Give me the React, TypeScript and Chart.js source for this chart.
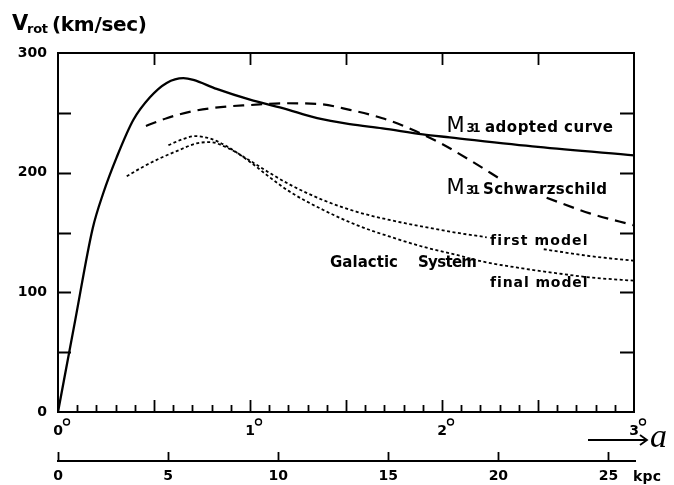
import React, { useEffect, useRef } from 'react';
import { Chart, registerables } from 'chart.js';
Chart.register(...registerables);

// ---- data (x in degrees of arc, y in km/sec) ----
const KPC_PER_DEG = 8.72;

const adoptedDeg = [0, 0.09, 0.18, 0.236, 0.306, 0.392, 0.479, 0.566, 0.653, 0.705, 0.826, 1.0, 1.17, 1.35, 1.52, 1.69, 1.9, 2.04, 2.5, 3.0];
const adoptedV = [0, 77, 153, 183, 213, 244, 263, 275, 279, 277.5, 270, 261, 254, 245.5, 240.5, 237, 232, 229.5, 221.5, 214.5];

const schwDeg = [0.458, 0.566, 0.705, 0.861, 1.0, 1.17, 1.35, 1.52, 1.69, 1.83, 1.9, 2.0, 2.16, 2.3, 2.42, 2.545, 2.77, 3.0];
const schwV = [239, 245.5, 251.5, 255, 256.5, 258, 257.5, 252.5, 245.5, 237, 232, 224, 209, 195, null, 179, 166, 156];

const firstDeg = [0.358, 0.444, 0.531, 0.618, 0.722, 0.792, 0.879, 1.0, 1.1, 1.208, 1.382, 1.556, 1.729, 1.903, 2.077, 2.233, 2.38, 2.53, 2.77, 3.0];
const firstV = [197, 205, 212, 218, 224.5, 225.5, 221, 210, 200, 190, 177, 167.3, 160.4, 154.8, 149.8, 146, null, 136, 130.3, 126.4];

const finalDeg = [0.575, 0.65, 0.714, 0.792, 0.879, 1.0, 1.1, 1.208, 1.382, 1.556, 1.729, 1.903, 2.077, 2.215, 2.42, 2.6, 2.77, 3.0];
const finalV = [223, 228, 230.5, 228.5, 222, 209, 196.5, 184, 168.8, 156.2, 146.5, 138, 131.2, 125.6, 120, 115.9, 112.5, 109.7];

const yTickValues = [0, 50, 100, 150, 200, 250, 300];
const degTickLabels = ['0', '1', '2', '3'];
const kpcTickValues = [0, 5, 10, 15, 20, 25];

const toPts = (xs: number[], ys: (number | null)[]) => xs.map((x, i) => ({ x, y: ys[i] }));

const FAM = '"DejaVu Sans", sans-serif';

function fitText(ctx: CanvasRenderingContext2D, text: string, left: number, baseline: number, width: number, font: string) {
  ctx.font = font;
  (ctx as any).letterSpacing = '0px';
  const w = ctx.measureText(text).width;
  const n = text.length - 1;
  const sp = n > 0 ? (width - w) / n : 0;
  (ctx as any).letterSpacing = sp + 'px';
  ctx.textAlign = 'left';
  ctx.textBaseline = 'alphabetic';
  ctx.fillText(text, left, baseline);
  (ctx as any).letterSpacing = '0px';
}

const decor = {
  id: 'decor',
  afterDraw(chart: any) {
    const { ctx, chartArea: a, scales } = chart;
    const x = scales.x, y = scales.y, x2 = scales.x2;
    ctx.save();
    ctx.strokeStyle = '#000';
    ctx.fillStyle = '#000';
    ctx.lineWidth = 2;
    ctx.beginPath();
    ctx.moveTo(a.left - 1, a.top);
    ctx.lineTo(a.right, a.top);
    ctx.lineTo(a.right, a.bottom + 1);
    ctx.stroke();

    ctx.lineWidth = 1.8;
    ctx.beginPath();
    y.ticks.forEach((t: any) => {
      if (t.value === 0 || t.value === 300) return;
      const py = Math.round(y.getPixelForValue(t.value)) + 0.5;
      ctx.moveTo(a.left, py); ctx.lineTo(a.left + 13, py);
      ctx.moveTo(a.right, py); ctx.lineTo(a.right - 14, py);
    });
    x.ticks.forEach((t: any) => {
      const v = Math.round(t.value * 10);
      if (v === 0 || v === 30) return;
      const px = Math.round(x.getPixelForValue(t.value)) + 0.5;
      const major = v % 5 === 0;
      ctx.moveTo(px, a.bottom); ctx.lineTo(px, a.bottom - (major ? 12 : 7));
      if (major) { ctx.moveTo(px, a.top); ctx.lineTo(px, a.top + 12); }
    });
    x2.ticks.forEach((t: any) => {
      const px = Math.round(x2.getPixelForValue(t.value)) + 0.5;
      ctx.moveTo(px, x2.top); ctx.lineTo(px, x2.top - 9);
    });
    ctx.moveTo(x2.right, x2.top); ctx.lineTo(x2.right + 2, x2.top);
    ctx.stroke();

    // degree signs
    ctx.lineWidth = 1.4;
    x.ticks.forEach((t: any) => {
      if (Math.abs(t.value - Math.round(t.value)) > 1e-6) return;
      const px = x.getPixelForValue(t.value);
      ctx.beginPath();
      ctx.arc(px + 8.5, a.bottom + 10, 3, 0, Math.PI * 2);
      ctx.stroke();
    });

    // y title
    fitText(ctx, 'V', 12, 30, 13, `bold 21px ${FAM}`);
    fitText(ctx, 'rot', 27, 33, 21, `bold 13px ${FAM}`);
    fitText(ctx, '(km/sec)', 52, 31, 95, `bold 20px ${FAM}`);

    // curve labels
    fitText(ctx, 'M', 446.5, 132, 18, `21px ${FAM}`);
    fitText(ctx, '31', 466.5, 132, 14, `bold 12px ${FAM}`);
    fitText(ctx, 'adopted curve', 485, 132, 128, `bold 15px ${FAM}`);

    fitText(ctx, 'M', 446.5, 194, 17, `21px ${FAM}`);
    fitText(ctx, '31', 466, 194, 14, `bold 12px ${FAM}`);
    fitText(ctx, 'Schwarzschild', 483, 193.5, 124, `bold 15px ${FAM}`);

    fitText(ctx, 'first model', 490, 245, 97, `bold 14px ${FAM}`);
    fitText(ctx, 'Galactic', 330, 267, 68, `bold 15px ${FAM}`);
    fitText(ctx, 'System', 418, 267, 59, `bold 15px ${FAM}`);
    fitText(ctx, 'final model', 490, 287, 97, `bold 14px ${FAM}`);

    // kpc unit
    fitText(ctx, 'kpc', 633, 481, 28, `bold 14px ${FAM}`);

    // arrow and "a"
    ctx.lineWidth = 1.8;
    ctx.beginPath();
    ctx.moveTo(588, 440); ctx.lineTo(647, 440);
    ctx.moveTo(640, 435); ctx.lineTo(647, 440); ctx.lineTo(640, 445);
    ctx.stroke();
    ctx.font = 'italic 34px "Liberation Serif", serif';
    ctx.textAlign = 'left';
    ctx.textBaseline = 'alphabetic';
    ctx.fillText('a', 650, 447);
    ctx.restore();
  },
};

export default function App() {
  const ref = useRef<HTMLCanvasElement | null>(null);
  useEffect(() => {
    if (!ref.current) return;
    const tickFont = { family: FAM, weight: 'bold' as const, size: 14 };
    const chart = new Chart(ref.current, {
      type: 'line',
      data: {
        datasets: [
          { label: 'M31 adopted curve', data: toPts(adoptedDeg, adoptedV), borderColor: '#000', borderWidth: 2.3, pointRadius: 0, cubicInterpolationMode: 'monotone', spanGaps: false },
          { label: 'M31 Schwarzschild', data: toPts(schwDeg, schwV), borderColor: '#000', borderWidth: 2.2, borderDash: [11, 7], pointRadius: 0, cubicInterpolationMode: 'monotone', spanGaps: false },
          { label: 'first model', data: toPts(firstDeg, firstV), borderColor: '#000', borderWidth: 1.8, borderDash: [3, 2.5], pointRadius: 0, cubicInterpolationMode: 'monotone', spanGaps: false },
          { label: 'final model', data: toPts(finalDeg, finalV), borderColor: '#000', borderWidth: 1.8, borderDash: [3, 2.5], pointRadius: 0, cubicInterpolationMode: 'monotone', spanGaps: false },
        ],
      } as any,
      options: {
        responsive: false,
        devicePixelRatio: 1,
        animation: false,
        layout: { padding: { top: 53, right: 40, left: 0, bottom: 0 } },
        plugins: { legend: { display: false }, tooltip: { enabled: false } },
        scales: {
          x: {
            type: 'linear', position: 'bottom', min: 0, max: 3, weight: 0,
            afterBuildTicks: (s: any) => { s.ticks = Array.from({ length: 31 }, (_, i) => ({ value: i / 10 })); },
            afterFit: (s: any) => { s.height = 49; },
            ticks: {
              autoSkip: false, maxRotation: 0, color: '#000', font: tickFont, padding: 11,
              callback: (v: any) => { const r = Math.round(v); return Math.abs(v - r) < 1e-6 ? degTickLabels[r] : ''; },
            },
            grid: { display: false, drawTicks: false },
            border: { display: true, color: '#000', width: 2 },
          },
          x2: {
            type: 'linear', position: 'bottom', min: 0, max: 3 * KPC_PER_DEG, weight: 1,
            afterBuildTicks: (s: any) => { s.ticks = kpcTickValues.map((value) => ({ value })); },
            afterFit: (s: any) => { s.height = 24; },
            ticks: { autoSkip: false, maxRotation: 0, color: '#000', font: tickFont, padding: 7, callback: (v: any) => String(v) },
            grid: { display: false, drawTicks: false },
            border: { display: true, color: '#000', width: 2 },
          },
          y: {
            type: 'linear', position: 'left', min: 0, max: 300,
            afterBuildTicks: (s: any) => { s.ticks = yTickValues.map((value) => ({ value })); },
            afterFit: (s: any) => { s.width = 58; },
            ticks: { color: '#000', font: tickFont, padding: 11, callback: (v: any) => (v % 100 === 0 ? String(v) : '') },
            grid: { display: false, drawTicks: false },
            border: { display: true, color: '#000', width: 2 },
          },
        },
      } as any,
      plugins: [decor],
    });
    return () => chart.destroy();
  }, []);
  return (
    <div style={{ position: 'fixed', left: 0, top: 0, width: 674, height: 485, background: '#fff' }}>
      <canvas ref={ref} width={674} height={485} style={{ display: 'block', width: 674, height: 485 }} />
    </div>
  );
}
